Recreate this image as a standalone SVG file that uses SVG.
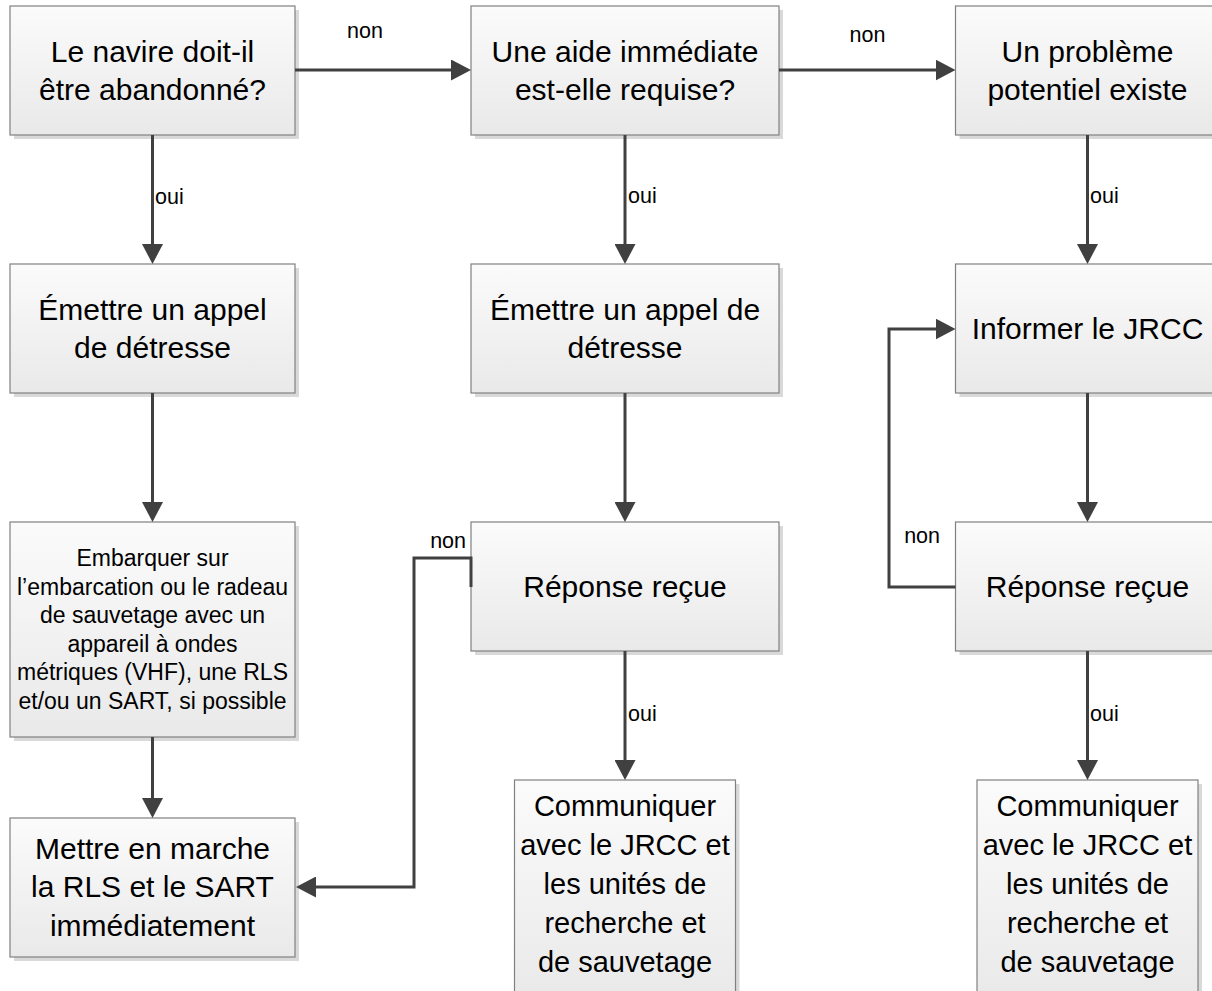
<svg xmlns="http://www.w3.org/2000/svg" width="1212" height="991" viewBox="0 0 1212 991">
<defs>
<linearGradient id="g" x1="0" y1="0" x2="0" y2="1">
<stop offset="0" stop-color="#fbfbfb"/>
<stop offset="1" stop-color="#e9e9e9"/>
</linearGradient>
<marker id="ah" viewBox="0 0 20 21" refX="5" refY="10.5" markerWidth="20" markerHeight="21" markerUnits="userSpaceOnUse" orient="auto">
<path d="M0,0 L20,10.5 L0,21 Z" fill="#404040"/>
</marker>
</defs>
<style>
.sh{fill:#d9d9d9}
.bx{fill:url(#g);stroke:#808080;stroke-width:1.2}
.t{font-family:"Liberation Sans",Arial,sans-serif;font-size:30px;fill:#000;text-anchor:middle}
.s{font-size:23px}
.c{font-size:29px}
.l{font-family:"Liberation Sans",Arial,sans-serif;font-size:21.5px;fill:#000}
.cn{fill:none;stroke:#404040;stroke-width:3}
</style>
<rect width="1212" height="991" fill="#ffffff"/>

<g id="n1">
<rect class="sh" x="14" y="10" width="285" height="129"/>
<rect class="bx" x="10" y="6" width="285" height="129"/>
<text class="t" x="152.5" y="62">Le navire doit-il</text>
<text class="t" x="152.5" y="100">être abandonné?</text>
</g>
<g id="n2">
<rect class="sh" x="475" y="10" width="308" height="129"/>
<rect class="bx" x="471" y="6" width="308" height="129"/>
<text class="t" x="625" y="62">Une aide immédiate</text>
<text class="t" x="625" y="100">est-elle requise?</text>
</g>
<g id="n3">
<rect class="sh" x="959.5" y="10" width="264" height="129"/>
<rect class="bx" x="955.5" y="6" width="264" height="129"/>
<text class="t" x="1087.5" y="62">Un problème</text>
<text class="t" x="1087.5" y="100">potentiel existe</text>
</g>
<g id="n4">
<rect class="sh" x="14" y="268" width="285" height="129"/>
<rect class="bx" x="10" y="264" width="285" height="129"/>
<text class="t" x="152.5" y="320">Émettre un appel</text>
<text class="t" x="152.5" y="358">de détresse</text>
</g>
<g id="n5">
<rect class="sh" x="475" y="268" width="308" height="129"/>
<rect class="bx" x="471" y="264" width="308" height="129"/>
<text class="t" x="625" y="320">Émettre un appel de</text>
<text class="t" x="625" y="358">détresse</text>
</g>
<g id="n6">
<rect class="sh" x="959.5" y="268" width="264" height="129"/>
<rect class="bx" x="955.5" y="264" width="264" height="129"/>
<text class="t" x="1087.5" y="339">Informer le JRCC</text>
</g>
<g id="n7">
<rect class="sh" x="14" y="526" width="285" height="215"/>
<rect class="bx" x="10" y="522" width="285" height="215"/>
<text class="t s" x="152.5" y="566">Embarquer sur</text>
<text class="t s" x="152.5" y="594.6">l’embarcation ou le radeau</text>
<text class="t s" x="152.5" y="623.2">de sauvetage avec un</text>
<text class="t s" x="152.5" y="651.8">appareil à ondes</text>
<text class="t s" x="152.5" y="680.4">métriques (VHF), une RLS</text>
<text class="t s" x="152.5" y="709">et/ou un SART, si possible</text>
</g>
<g id="n8">
<rect class="sh" x="475" y="526" width="308" height="129"/>
<rect class="bx" x="471" y="522" width="308" height="129"/>
<text class="t" x="625" y="597">Réponse reçue</text>
</g>
<g id="n9">
<rect class="sh" x="959.5" y="526" width="264" height="129"/>
<rect class="bx" x="955.5" y="522" width="264" height="129"/>
<text class="t" x="1087.5" y="597">Réponse reçue</text>
</g>
<g id="n10">
<rect class="sh" x="14" y="822" width="285" height="139"/>
<rect class="bx" x="10" y="818" width="285" height="139"/>
<text class="t" x="152.5" y="858.5">Mettre en marche</text>
<text class="t" x="152.5" y="897">la RLS et le SART</text>
<text class="t" x="152.5" y="935.5">immédiatement</text>
</g>
<g id="n11">
<rect class="sh" x="518.5" y="784" width="221" height="220"/>
<rect class="bx" x="514.5" y="780" width="221" height="220"/>
<text class="t c" x="625" y="816">Communiquer</text>
<text class="t c" x="625" y="855">avec le JRCC et</text>
<text class="t c" x="625" y="894">les unités de</text>
<text class="t c" x="625" y="933">recherche et</text>
<text class="t c" x="625" y="972">de sauvetage</text>
</g>
<g id="n12">
<rect class="sh" x="981" y="784" width="221" height="220"/>
<rect class="bx" x="977" y="780" width="221" height="220"/>
<text class="t c" x="1087.5" y="816">Communiquer</text>
<text class="t c" x="1087.5" y="855">avec le JRCC et</text>
<text class="t c" x="1087.5" y="894">les unités de</text>
<text class="t c" x="1087.5" y="933">recherche et</text>
<text class="t c" x="1087.5" y="972">de sauvetage</text>
</g>

<g id="connectors">
<path class="cn" marker-end="url(#ah)" d="M295,70 H456"/>
<path class="cn" marker-end="url(#ah)" d="M779,70 H940.5"/>
<path class="cn" marker-end="url(#ah)" d="M152.5,135 V249"/>
<path class="cn" marker-end="url(#ah)" d="M152.5,393 V507"/>
<path class="cn" marker-end="url(#ah)" d="M152.5,737 V803"/>
<path class="cn" marker-end="url(#ah)" d="M625,135 V249"/>
<path class="cn" marker-end="url(#ah)" d="M625,393 V507"/>
<path class="cn" marker-end="url(#ah)" d="M625,651 V765"/>
<path class="cn" marker-end="url(#ah)" d="M1087.5,135 V249"/>
<path class="cn" marker-end="url(#ah)" d="M1087.5,393 V507"/>
<path class="cn" marker-end="url(#ah)" d="M1087.5,651 V765"/>
<path class="cn" marker-end="url(#ah)" d="M471,587 V558 H414 V887 H311"/>
<path class="cn" marker-end="url(#ah)" d="M955.5,587 H889 V329 H940.5"/>
<text class="l" x="365" y="38" text-anchor="middle">non</text>
<text class="l" x="867.5" y="42" text-anchor="middle">non</text>
<text class="l" x="466" y="548" text-anchor="end">non</text>
<text class="l" x="940" y="543" text-anchor="end">non</text>
<text class="l" x="155" y="204">oui</text>
<text class="l" x="628" y="203">oui</text>
<text class="l" x="1090" y="203">oui</text>
<text class="l" x="628" y="721">oui</text>
<text class="l" x="1090" y="721">oui</text>
</g>
</svg>
